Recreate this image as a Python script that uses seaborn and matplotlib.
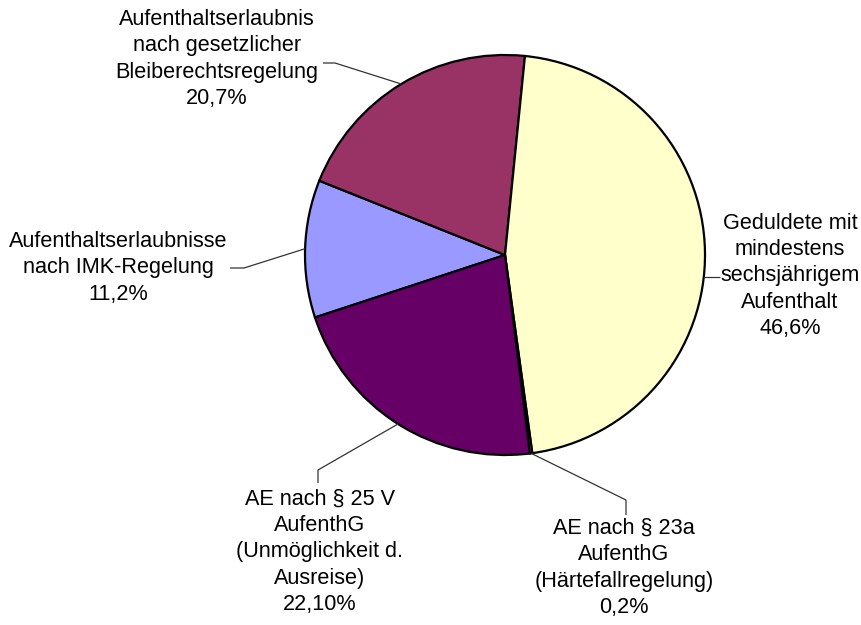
import numpy as np
import matplotlib
matplotlib.use("Agg")
import matplotlib.pyplot as plt
import seaborn as sns

sns.set_theme(style="white")
plt.rcParams['font.family'] = ['Liberation Sans', 'DejaVu Sans']

# Data (Excel-style series order)
categories = [
    "Aufenthaltserlaubnisse\nnach IMK-Regelung",
    "Aufenthaltserlaubnis\nnach gesetzlicher\nBleiberechtsregelung",
    "Geduldete mit\nmindestens\nsechsjährigem\nAufenthalt",
    "AE nach § 23a\nAufenthG\n(Härtefallregelung)",
    "AE nach § 25 V\nAufenthG\n(Unmöglichkeit d.\nAusreise)",
]
values = [11.2, 20.7, 46.6, 0.2, 22.1]
value_labels = ["11,2%", "20,7%", "46,6%", "0,2%", "22,10%"]
colors = ["#9999FF", "#993366", "#FFFFCC", "#CCFFFF", "#660066"]

W, H = 862, 625
fig = plt.figure(figsize=(W / 100, H / 100), dpi=100)
ax = fig.add_axes([0, 0, 1, 1])

cx, cy, r = 505, H - 255, 200
wedges, _ = ax.pie(values, colors=colors, startangle=198.2, counterclock=False,
                   center=(cx, cy), radius=r,
                   wedgeprops=dict(edgecolor="black", linewidth=1.6))
ax.set_xlim(0, W)
ax.set_ylim(0, H)
ax.set_aspect("equal")
ax.axis("off")

# label layout in pixel coords (y from top): (text x, text y, elbow points)
layout = {
    0: dict(tx=118, ty=268, path=[(244, 268), (230, 268)]),
    1: dict(tx=217, ty=59, path=[(335, 63), (323, 63)]),
    2: dict(tx=790, ty=276, path=[(720, 277)], horiz=True),
    3: dict(tx=624, ty=568, path=[(626, 500), (626, 515)]),
    4: dict(tx=320, ty=552, path=[(318, 470), (318, 483)]),
}

for i, w in enumerate(wedges):
    L = layout[i]
    if L.get("horiz"):
        yy = H - L["path"][0][1]
        dy = yy - cy
        start = (cx + np.sqrt(r ** 2 - dy ** 2), yy)
    else:
        mid = np.deg2rad((w.theta1 + w.theta2) / 2)
        start = (cx + r * np.cos(mid), cy + r * np.sin(mid))
    xs = [start[0]] + [p[0] for p in L["path"]]
    ys = [start[1]] + [H - p[1] for p in L["path"]]
    ax.plot(xs, ys, color="#333333", lw=0.9, solid_capstyle="butt")
    ax.text(L["tx"], H - L["ty"], categories[i] + "\n" + value_labels[i],
            ha="center", va="center", multialignment="center",
            fontsize=15.6, color="black", linespacing=1.33)

fig.savefig("out.png", dpi=100)
